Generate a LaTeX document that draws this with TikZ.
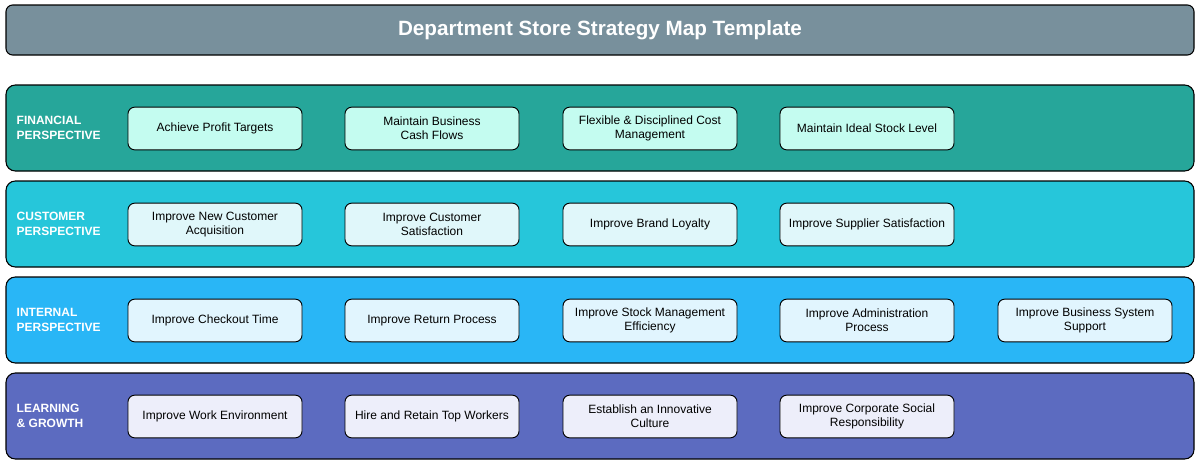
\documentclass[tikz,border=0pt]{standalone}
\usepackage{fontspec}
\setmainfont{Liberation Sans}
\begin{document}
\begin{tikzpicture}[x=0.75pt,y=-0.75pt,
 band/.style={draw=black,rounded corners=7pt,line width=0.8pt},
 obj/.style={draw=black,rounded corners=5pt,line width=0.7pt,minimum width=130.5pt,minimum height=32pt,align=center,font=\fontsize{9}{10.5}\selectfont,inner sep=1pt},
 lab/.style={anchor=west,align=left,font=\bfseries\fontsize{9}{11}\selectfont,text=white}]
\useasboundingbox (0,0) rectangle (1200,465);
\definecolor{cT}{HTML}{78909C}
\definecolor{cF}{HTML}{26A69A}\definecolor{fF}{HTML}{C4FCF0}
\definecolor{cC}{HTML}{26C6DA}\definecolor{fC}{HTML}{E0F7FA}
\definecolor{cI}{HTML}{29B6F6}\definecolor{fI}{HTML}{E1F5FE}
\definecolor{cL}{HTML}{5C6BC0}\definecolor{fL}{HTML}{EDEEFA}
\draw[band,fill=cT,rounded corners=5pt] (6,5) rectangle (1194,55);
\node[font=\bfseries\fontsize{15.5}{18}\selectfont,text=white] (title) at (600,30) {Department Store Strategy Map Template};
\foreach \y/\c/\f/\t [count=\i] in {85/cF/fF/{FINANCIAL\\PERSPECTIVE},181/cC/fC/{CUSTOMER\\PERSPECTIVE},277/cI/fI/{INTERNAL\\PERSPECTIVE},373/cL/fL/{LEARNING\\\& GROWTH}}{
 \draw[band,fill=\c] (6,\y) rectangle (1194,\y+86);
 \node[lab] (lab\i) at (12,\y+43) {\t};
}
\tikzset{oF/.style={obj,fill=fF},oC/.style={obj,fill=fC},oI/.style={obj,fill=fI},oL/.style={obj,fill=fL}}
\node[oF] (f1) at (215,128.5) {Achieve Profit Targets};
\node[oF] (f2) at (432,128.5) {Maintain Business\\Cash Flows};
\node[oF] (f3) at (650,128.5) {Flexible \& Disciplined Cost\\Management};
\node[oF] (f4) at (867,128.5) {Maintain Ideal Stock Level};
\node[oC] (c1) at (215,224.5) {Improve New Customer\\Acquisition};
\node[oC] (c2) at (432,224.5) {Improve Customer\\Satisfaction};
\node[oC] (c3) at (650,224.5) {Improve Brand Loyalty};
\node[oC] (c4) at (867,224.5) {Improve Supplier Satisfaction};
\node[oI] (i1) at (215,320.5) {Improve Checkout Time};
\node[oI] (i2) at (432,320.5) {Improve Return Process};
\node[oI] (i3) at (650,320.5) {Improve Stock Management\\Efficiency};
\node[oI] (i4) at (867,320.5) {Improve Administration\\Process};
\node[oI] (i5) at (1085,320.5) {Improve Business System\\Support};
\node[oL] (l1) at (215,416.5) {Improve Work Environment};
\node[oL] (l2) at (432,416.5) {Hire and Retain Top Workers};
\node[oL] (l3) at (650,416.5) {Establish an Innovative\\Culture};
\node[oL] (l4) at (867,416.5) {Improve Corporate Social\\Responsibility};
\end{tikzpicture}
\end{document}
